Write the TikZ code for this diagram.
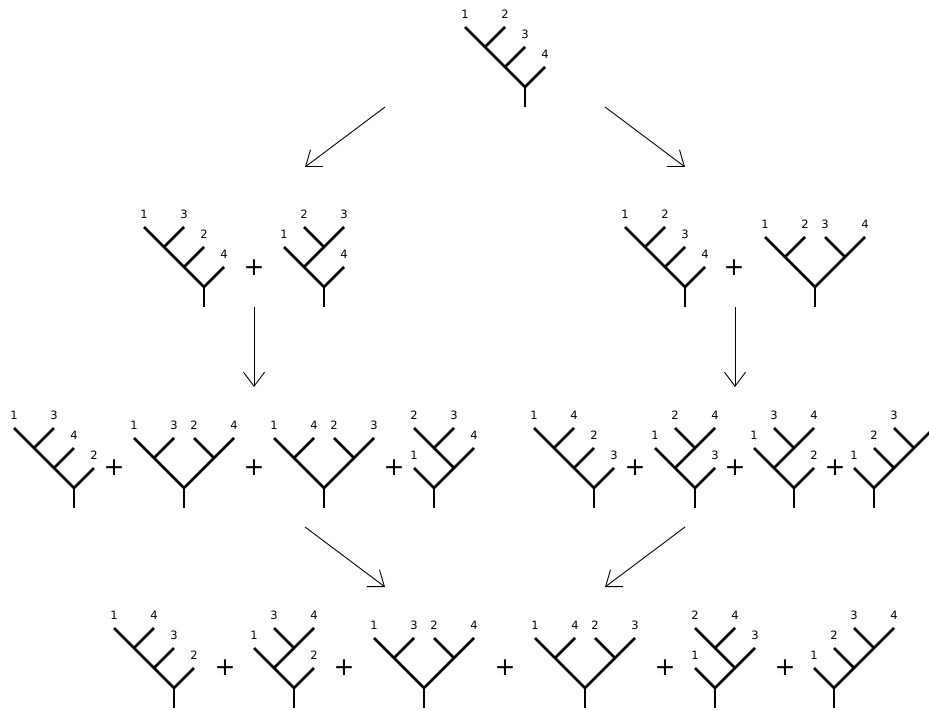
\documentclass[tikz,border=0pt]{standalone}
\usepackage{fontspec}
\setmainfont{DejaVu Sans}
\usetikzlibrary{arrows.meta}
\tikzset{
  treeline/.style={line width=2.8pt, line join=miter},
  lab/.style={inner sep=0pt, font=\fontsize{11.5}{13}\selectfont},
  plussign/.style={inner sep=0pt, font=\fontsize{25}{28}\selectfont},
  arr/.style={line width=0.9pt, -{Straight Barb[length=14pt, width=21pt, line width=0.9pt]}}
}
% (((1,2),3),4)
\newcommand\cattree[6]{%
\begin{scope}[shift={(#1,#2)}]
\draw[treeline] (-60,-60) -- (0,0) -- (20,-20);
\draw[treeline] (-40,-40) -- (-20,-60);
\draw[treeline] (-20,-20) -- (0,-40);
\draw[treeline] (0,0) -- (0,20);
\node[lab] at (-60,-73) {#3};
\node[lab] at (-20,-73) {#4};
\node[lab] at (0,-53) {#5};
\node[lab] at (20,-33) {#6};
\end{scope}}
% ((1,2),(3,4))
\newcommand\baltree[6]{%
\begin{scope}[shift={(#1,#2)}]
\draw[treeline] (-50,-50) -- (0,0) -- (50,-50);
\draw[treeline] (-30,-30) -- (-10,-50);
\draw[treeline] (30,-30) -- (10,-50);
\draw[treeline] (0,0) -- (0,20);
\node[lab] at (-50,-63) {#3};
\node[lab] at (-10,-63) {#4};
\node[lab] at (10,-63) {#5};
\node[lab] at (50,-63) {#6};
\end{scope}}
% ((1,(2,3)),4)
\newcommand\ctree[6]{%
\begin{scope}[shift={(#1,#2)}]
\draw[treeline] (-40,-40) -- (0,0) -- (20,-20);
\draw[treeline] (-20,-20) -- (0,-40);
\draw[treeline] (-20,-60) -- (0,-40) -- (20,-60);
\draw[treeline] (0,0) -- (0,20);
\node[lab] at (-40,-53) {#3};
\node[lab] at (-20,-73) {#4};
\node[lab] at (20,-73) {#5};
\node[lab] at (20,-33) {#6};
\end{scope}}
% (1,((2,3),4))
\newcommand\dtree[6]{%
\begin{scope}[shift={(#1,#2)}]
\draw[treeline] (-20,-20) -- (0,0) -- (40,-40);
\draw[treeline] (20,-20) -- (0,-40);
\draw[treeline] (-20,-60) -- (0,-40) -- (20,-60);
\draw[treeline] (0,0) -- (0,20);
\node[lab] at (-20,-33) {#3};
\node[lab] at (-20,-73) {#4};
\node[lab] at (20,-73) {#5};
\node[lab] at (40,-53) {#6};
\end{scope}}
% (1,(2,(3,4)))
\newcommand\rcattree[6]{%
\begin{scope}[shift={(#1,#2)}]
\draw[treeline] (-20,-20) -- (0,0) -- (60,-60);
\draw[treeline] (20,-20) -- (0,-40);
\draw[treeline] (40,-40) -- (20,-60);
\draw[treeline] (0,0) -- (0,20);
\node[lab] at (-20,-33) {#3};
\node[lab] at (0,-53) {#4};
\node[lab] at (20,-73) {#5};
\node[lab] at (60,-73) {#6};
\end{scope}}
\begin{document}
\begin{tikzpicture}[x=1pt,y=-1pt]
\clip (0,0) rectangle (929,711);
\fill[white] (0,0) rectangle (929,711);
% top
\cattree{525}{87}{1}{2}{3}{4}
% row 2
\cattree{204}{287}{1}{3}{2}{4}
\node[plussign] (p21) at (254,268) {+};
\ctree{324}{287}{1}{2}{3}{4}
\cattree{685}{287}{1}{2}{3}{4}
\node[plussign] (p22) at (734,268) {+};
\baltree{815}{287}{1}{2}{3}{4}
% row 3
\cattree{74}{488}{1}{3}{4}{2}
\node[plussign] (p31) at (114,468) {+};
\baltree{184}{488}{1}{3}{2}{4}
\node[plussign] (p32) at (254,468) {+};
\baltree{324}{488}{1}{4}{2}{3}
\node[plussign] (p33) at (394,468) {+};
\dtree{434}{488}{1}{2}{3}{4}
\cattree{594}{488}{1}{4}{2}{3}
\node[plussign] (p34) at (635,468) {+};
\ctree{695}{488}{1}{2}{4}{3}
\node[plussign] (p35) at (735,468) {+};
\ctree{794}{488}{1}{3}{4}{2}
\node[plussign] (p36) at (835,468) {+};
\rcattree{874}{488}{1}{2}{3}{}
% row 4
\cattree{174}{688}{1}{4}{3}{2}
\node[plussign] (p41) at (225,668) {+};
\ctree{294}{688}{1}{3}{4}{2}
\node[plussign] (p42) at (344,668) {+};
\baltree{424}{688}{1}{3}{2}{4}
\node[plussign] (p43) at (505,668) {+};
\baltree{585}{688}{1}{4}{2}{3}
\node[plussign] (p44) at (665,668) {+};
\dtree{715}{688}{1}{2}{4}{3}
\node[plussign] (p45) at (785,668) {+};
\rcattree{834}{688}{1}{2}{3}{4}
% arrows
\coordinate (a1s) at (385,107); \coordinate (a1e) at (305,167);
\coordinate (a2s) at (605,107); \coordinate (a2e) at (685,167);
\coordinate (a3s) at (254,307); \coordinate (a3e) at (254,387);
\coordinate (a4s) at (735,307); \coordinate (a4e) at (735,387);
\coordinate (a5s) at (305,527); \coordinate (a5e) at (385,587);
\coordinate (a6s) at (685,527); \coordinate (a6e) at (605,587);
\draw[arr] (a1s) -- (a1e);
\draw[arr] (a2s) -- (a2e);
\draw[arr] (a3s) -- (a3e);
\draw[arr] (a4s) -- (a4e);
\draw[arr] (a5s) -- (a5e);
\draw[arr] (a6s) -- (a6e);
\end{tikzpicture}
\end{document}
